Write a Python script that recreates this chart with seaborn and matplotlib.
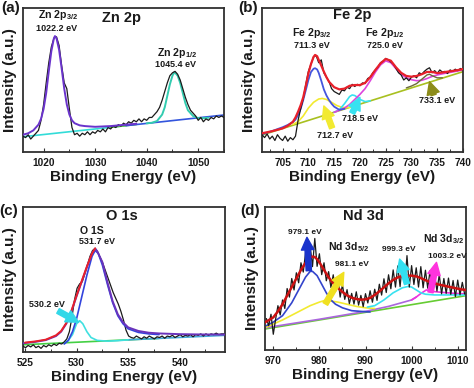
import numpy as np
import matplotlib
matplotlib.use("Agg")
import matplotlib.pyplot as plt
import seaborn as sns
from matplotlib.ticker import MultipleLocator

sns.set_theme(style="white")
plt.rcParams['font.family'] = ['Liberation Sans', 'DejaVu Sans']
plt.rcParams['font.weight'] = 'bold'
plt.rcParams['mathtext.fontset'] = 'custom'
plt.rcParams['mathtext.rm'] = 'Liberation Sans:bold'
plt.rcParams['mathtext.bf'] = 'Liberation Sans:bold'
plt.rcParams['mathtext.default'] = 'rm'

# ---------------- (a) Zn 2p ----------------
a_E0, a_dE = 1016.0, 0.5
a_data = [11, 10, 12, 9, 11, 13, 15, 22, 33, 48, 62, 73, 79, 80, 74, 60, 48, 44, 30, 17,
          12, 13, 11, 13, 12, 14, 12, 14, 13, 15, 14, 16, 14, 17, 16, 18, 17, 19, 18, 20,
          19, 21, 20, 22, 21, 23, 21, 23, 22, 24, 24, 26, 28, 31, 36, 42, 48, 53, 55, 56,
          54, 50, 44, 38, 33, 29, 27, 25, 22, 24, 21, 23, 22, 24, 23, 25, 24, 25, 24]
a_p32_E = [1016, 1017, 1018, 1019, 1019.5, 1020, 1020.5, 1021, 1021.5, 1022, 1022.2, 1022.5,
           1023, 1023.5, 1024, 1024.5, 1025, 1025.5, 1026, 1027, 1028, 1030, 1033, 1036, 1038]
a_p32_I = [12, 13, 15, 19, 23, 30, 41, 56, 70, 79, 80.5, 79,
           71, 58, 44, 33, 26, 22, 20, 18.5, 18, 17.5, 18, 19, 19.6]
a_p12_E = [1040, 1041, 1042, 1043, 1043.5, 1044, 1044.5, 1045, 1045.4, 1046, 1046.5, 1047,
           1047.5, 1048, 1049, 1050, 1051, 1052]
a_p12_I = [19.9, 20.3, 21.5, 26, 31, 39, 47, 53, 55.5, 53, 48, 41,
           34, 29, 25, 23.5, 23.5, 23.8]
a_base1_E, a_base1_I = [1016, 1036], [10.6, 18.3]
a_base2_E, a_base2_I = [1033, 1038], [17.2, 19.1]
a_base3_E, a_base3_I = [1036, 1055], [18.3, 25.7]

# ---------------- (b) Fe 2p ----------------
b_E0, b_dE = 701.0, 0.5
b_data = [12, 10, 12.5, 9, 11, 8, 12, 9.5, 8, 11, 7.5, 10, 8.5, 11, 22, 30, 37, 47, 56, 61,
          66, 67, 62, 64, 55, 52, 49, 44, 42, 41, 40, 43, 42.5, 45, 44, 47, 45.5, 47, 46, 48,
          47.5, 51, 52, 55, 57, 59, 62, 63, 65, 64, 62.5, 61, 58, 55, 53.5, 50, 51.5, 49.5, 52, 53,
          51.5, 55, 54, 56, 57.5, 58.5, 55, 56.5, 54.5, 57, 55.5, 56, 54.5, 57, 56, 57.5, 56.5, 58, 57]
b_env_E = [701, 703, 705, 706, 707, 707.5, 708, 708.5, 709, 709.5, 710, 710.5, 711, 711.3, 711.7,
           712, 712.5, 713, 713.5, 714, 715, 716, 717, 718, 719, 720, 721, 722, 723, 724, 725,
           726, 727, 728, 729, 730, 731, 732, 733, 734, 735, 736, 737, 738, 739, 740]
b_env_I = [13, 14.5, 16.4, 18.2, 21, 24, 28, 32.5, 38, 46, 54.6, 61, 66, 67.4, 66.5,
           64, 60, 55.8, 52, 48.8, 45, 43.5, 44, 46, 46.5, 46.5, 48, 51.9, 57, 61.6, 64.6,
           63.4, 58.8, 55, 52.8, 52.3, 52.8, 54, 55.6, 55.6, 54.8, 55.2, 55.8, 56.3, 56.9, 57.6]
b_base_E, b_base_I = [701, 740], [11.8, 55.8]
b_main_E = [701, 703, 705, 706, 707, 707.5, 708, 708.5, 709, 709.5, 710, 710.5, 711, 711.3,
            711.7, 712, 712.5, 713, 713.5, 714, 714.5, 715, 716, 717]
b_main_I = [12.3, 14.6, 17.2, 18.8, 20.8, 22.5, 25.7, 30, 36.1, 43, 50, 55.5, 57.8, 58.2,
            57.3, 55, 49.5, 43.5, 39.3, 36.1, 33.5, 31.5, 29.3, 30]
b_sat1_E = [707, 708, 709, 710, 711, 712, 712.7, 713.5, 714.5, 715.5, 716.5, 717.5, 718.5]
b_sat1_I = [19.2, 21, 25, 30.5, 34.5, 36.8, 37.2, 36.5, 34.5, 32.3, 31, 30.8, 31.5]
b_sat2_E = [715, 716, 717, 717.5, 718, 718.5, 719, 719.5, 720, 721, 722]
b_sat2_I = [27.6, 29.3, 33.5, 36, 38.5, 39.6, 39.2, 38, 36.5, 35, 35.5]
b_p12_E = [715, 716, 717, 718, 719, 720, 721, 722, 723, 724, 725, 726, 727, 728, 729, 730,
           731, 732, 733, 734, 735, 736, 737, 738, 739, 740]
b_p12_I = [27.6, 29, 30.5, 33, 36.5, 40, 44, 49.5, 55.5, 60.5, 63.3, 62, 57.8, 54, 51.5, 50.2,
           49.5, 49.8, 51, 52.5, 53.5, 54.3, 55, 55.6, 56.3, 57]
b_sat3_E = [729, 730, 731, 732, 733, 733.5, 734, 735, 736]
b_sat3_I = [44.5, 45.8, 47.5, 50.5, 53.5, 54, 53, 51.5, 51.5]

# ---------------- (c) O 1s ----------------
c_E0, c_dE = 524.8, 0.25
c_data = [4, 3, 4.5, 3.5, 5, 3, 4, 2.5, 4.5, 3.5, 5, 4, 5.5, 4.5, 6, 5.5, 7, 9, 14, 24,
          36, 44, 47, 48.5, 54, 60, 66, 70, 71.5, 69, 65, 61, 56, 51, 46, 41, 37, 33, 28, 22,
          15, 11, 10, 9.5, 11, 10, 9, 10.5, 9.5, 11, 10, 9, 10.5, 10, 11, 9.5, 11, 10.5, 11.5, 10,
          11, 12, 10.5, 11.5, 11, 12, 10.5, 12, 11.5, 12.5, 11, 12.5, 11.5, 12.5, 12, 13, 12, 12.5, 12.5]
c_red_E = [525, 526, 527, 528, 528.5, 529, 529.5, 530, 530.5, 531, 531.5, 531.8]
c_red_I = [6.5, 7.3, 8.5, 11.5, 14.5, 20, 28.5, 39, 49, 59, 68, 71.5]
c_env_E = [524.8, 525, 526, 527, 528, 528.5, 529, 529.5, 530, 530.5, 531, 531.5, 531.8, 532,
           532.5, 533, 533.5, 534, 534.5, 535, 536, 537, 538, 540, 542, 544.4]
c_env_I = [6, 6.2, 7, 8.2, 11, 14, 19.5, 28, 38.5, 48.5, 58.5, 68, 71.3, 69.5,
           62, 48, 35, 26, 20.5, 17, 14.5, 13.3, 12.8, 12.3, 12.1, 12]
c_main_E = [528.8, 529.2, 529.6, 530, 530.5, 531, 531.5, 531.8, 532.1, 532.5, 533, 533.5,
            534, 534.5, 535, 536, 537, 538]
c_main_I = [5.5, 8, 14, 23, 38, 53, 66, 70, 68, 60, 46.5, 34, 25, 19.5, 16, 13.5, 12.5, 12]
c_low_E = [528.8, 529.2, 529.6, 530, 530.3, 530.6, 531, 531.4, 532, 533, 534, 535]
c_low_I = [6.2, 8, 12, 19.5, 21.6, 19.5, 14, 10, 8, 7.5, 7.8, 8.4]
c_base1_E, c_base1_I = [524.8, 538], [5.0, 9.4]
c_base2_E, c_base2_I = [535, 544.4], [8.4, 11.5]

# ---------------- (d) Nd 3d ----------------
d_E0, d_dE = 968.5, 0.5
d_data = [22, 17, 25, 11, 21.5, 31, 24.5, 35, 29, 43, 37, 50, 42, 54, 47, 61, 54.5, 68, 57, 72.8,
          58.3, 78, 58.5, 67.3, 52.7, 61, 48.4, 54.8, 43.7, 52.6, 41, 50.4, 37, 45.6, 35.4, 42.2,
          32.4, 39.6, 32.1, 40.7, 31.4, 38.2, 30.3, 39.4, 32.9, 41.4, 33.4, 42.5, 34.7, 46, 38.4,
          49.8, 40.2, 52.6, 42.8, 56, 44, 58.8, 44.3, 60.7, 45.9, 66, 44, 59, 45.8, 57.5, 44, 58.3,
          43.5, 55.8, 43.2, 55.5, 41, 52.6, 41.2, 52.7, 39.3, 50, 39.6, 50.3, 38.9, 48.6, 37.3,
          48.9, 38.6, 47.3, 39.1]
d_env_E = [968.2, 970, 971, 972, 973, 974, 975, 976, 977, 977.5, 978, 978.5, 979, 979.5, 980,
           981, 982, 983, 984, 985, 986, 987, 988, 989, 990, 991, 992, 993, 994, 995, 996, 997,
           998, 999, 1000, 1001, 1002, 1003, 1004, 1005, 1006, 1007, 1008, 1009, 1010, 1011, 1011.8]
d_env_I = [19.3, 22.8, 27, 32, 38, 44, 50, 56, 61, 63, 64.8, 65.3, 65, 63.5, 61.3,
           56, 50.8, 46.6, 43.4, 40.6, 38.2, 36.6, 35.7, 35.2, 35.4, 36.4, 38.5, 41, 43.8, 46.6, 49, 50.8,
           51.7, 52, 52, 51.5, 50.3, 48.8, 47.5, 46.6, 45.7, 45, 44.3, 43.6, 42.9, 42.3, 42]
d_base_E, d_base_I = [968.2, 1011.8], [14.7, 38]
d_p1_E = [968.5, 970, 972, 974, 976, 977, 978, 978.5, 979.5, 980.5, 981.5, 982.5, 983.5,
          985, 987, 989, 991]
d_p1_I = [17, 19.5, 24, 33, 45, 51, 55, 55, 52, 46, 40, 35, 32, 29.5, 27.5, 27, 26.6]
d_p2_E = [968.5, 972, 975, 978, 980, 981, 982, 984, 986, 988, 990, 992]
d_p2_I = [16, 21, 26, 31, 33.5, 34.5, 34.5, 33.5, 32, 30.5, 29.5, 29]
d_p3_E = [990.4, 992, 994, 996, 998, 999.3, 1000, 1001, 1002, 1003, 1005, 1008, 1011.8]
d_p3_I = [30, 31, 35, 40, 43.5, 44.5, 44, 42, 40, 39, 38.5, 38.5, 38.5]
d_tail_E = [968.2, 980, 990, 995, 1000, 1001]
d_tail_I = [15.5, 21.5, 27, 30.5, 35, 37]
d_p4_E = [1000, 1001, 1002, 1003.2, 1004, 1005, 1007, 1009, 1011.8]
d_p4_I = [35, 37, 39.5, 42, 41.5, 40.8, 40.2, 39.7, 39.2]

# ---------------- layout ----------------
W, H = 474, 388
fig = plt.figure(figsize=(W / 100, H / 100), dpi=100)


def mkax(l, r, t, b):
    return fig.add_axes([l / W, 1 - b / H, (r - l) / W, (b - t) / H])


def line(ax, x, y, color, lw=1.0, z=2):
    sns.lineplot(x=np.asarray(x, float), y=np.asarray(y, float), ax=ax, color=color,
                 linewidth=lw, estimator=None, sort=False, legend=False, zorder=z)


def grid(e0, de, n):
    return e0 + de * np.arange(n)


def style(ax, xlim, major, minor):
    ax.set_xlim(*xlim)
    ax.set_ylim(0, 100)
    ax.set_yticks([])
    ax.xaxis.set_major_locator(MultipleLocator(major))
    ax.xaxis.set_minor_locator(MultipleLocator(minor))
    ax.tick_params(axis='x', which='major', direction='in', length=3, width=0.8,
                   bottom=True, pad=4.5, labelsize=7.3, labelcolor='#1a1a1a', color='#333333')
    ax.tick_params(axis='x', which='minor', direction='in', length=2, width=0.7,
                   bottom=True, color='#333333')
    for lab in ax.get_xticklabels():
        lab.set_fontweight('bold')
    for s in ax.spines.values():
        s.set_linewidth(1.3)
        s.set_color('#303030')
    ax.set_xlabel('Binding Energy (eV)', fontsize=11, fontweight='bold', labelpad=1.5,
                  color='#1a1a1a')
    ax.set_ylabel('Intensity (a.u.)', fontsize=11, fontweight='bold', color='#1a1a1a')
    ax.yaxis.set_label_coords(-0.03, 0.5)


def txt(ax, x, y, s, size, color='#1a1a1a'):
    ax.text(x, y, s, ha='center', va='center', fontsize=size, fontweight='bold',
            color=color, zorder=6)


def arrow(ax, tail, head, color):
    ax.annotate('', xy=head, xytext=tail,
                arrowprops=dict(arrowstyle='simple,head_length=0.9,head_width=0.9,tail_width=0.38',
                                color=color, shrinkA=0, shrinkB=0, mutation_scale=10),
                zorder=7)


# (a)
axa = mkax(23, 224, 8, 152)
line(axa, a_base1_E, a_base1_I, '#33dcd8', 1.2)
line(axa, a_base2_E, a_base2_I, '#66bb33', 1.2)
line(axa, a_base3_E, a_base3_I, '#3355dd', 1.2)
line(axa, a_p12_E, a_p12_I, '#33ccb0', 1.4)
line(axa, grid(a_E0, a_dE, len(a_data)), a_data, '#1a1a1a', 0.9, 3)
line(axa, a_p32_E, a_p32_I, '#6a33cc', 1.4, 4)
style(axa, (1016, 1055), 10, 5)
txt(axa, 1035.2, 93, 'Zn 2p', 10.5)
txt(axa, 1022.8, 95, 'Zn 2p$_{3/2}$', 7.6)
txt(axa, 1022.6, 86, '1022.2 eV', 6.5)
txt(axa, 1045.9, 68.8, 'Zn 2p$_{1/2}$', 7.6)
txt(axa, 1045.5, 61, '1045.4 eV', 6.5)

# (b)
axb = mkax(262, 463, 8, 152)
line(axb, b_base_E, b_base_I, '#a8c020', 1.2)
line(axb, b_sat1_E, b_sat1_I, '#f2ea30', 1.2)
line(axb, b_sat2_E, b_sat2_I, '#38e2f0', 1.2)
line(axb, b_p12_E, b_p12_I, '#dd44dd', 1.2)
line(axb, b_sat3_E, b_sat3_I, '#6b6b38', 1.0)
line(axb, b_main_E, b_main_I, '#4455dd', 1.3)
line(axb, grid(b_E0, b_dE, len(b_data)), b_data, '#1a1a1a', 0.9, 3)
line(axb, b_env_E, b_env_I, '#e8202a', 1.6, 4)
style(axb, (701, 740), 5, 2.5)
txt(axb, 718.5, 95, 'Fe 2p', 10.5)
txt(axb, 710.7, 82.6, 'Fe 2p$_{3/2}$', 7.6)
txt(axb, 710.7, 74.3, '711.3 eV', 6.5)
txt(axb, 724.9, 82.6, 'Fe 2p$_{1/2}$', 7.6)
txt(axb, 724.9, 74.3, '725.0 eV', 6.5)
txt(axb, 715.2, 11.8, '712.7 eV', 6.5)
txt(axb, 720.0, 23.6, '718.5 eV', 6.5)
txt(axb, 735.0, 36.0, '733.1 eV', 6.5)
arrow(axb, (714.6, 16.7), (713.0, 32), '#f2ea30')
arrow(axb, (718.5, 27), (720.0, 38), '#38e2f0')
arrow(axb, (734.3, 39.6), (733.5, 48.8), '#8c8c1a')

# (c)
axc = mkax(23, 225, 207, 352)
line(axc, c_base1_E, c_base1_I, '#44d044', 1.2)
line(axc, c_base2_E, c_base2_I, '#44a8d8', 1.2)
line(axc, c_low_E, c_low_I, '#40e0e0', 1.2)
line(axc, grid(c_E0, c_dE, len(c_data)), c_data, '#1a1a1a', 0.9, 3)
line(axc, c_main_E, c_main_I, '#3344dd', 1.2, 4)
line(axc, c_env_E, c_env_I, '#6a33bb', 1.4, 4)
line(axc, c_red_E, c_red_I, '#e8202a', 1.4, 5)
style(axc, (524.8, 544.4), 5, 2.5)
txt(axc, 534.4, 93.8, 'O 1s', 10.5)
txt(axc, 531.5, 83.4, 'O 1S', 7.6)
txt(axc, 532.0, 75.9, '531.7 eV', 6.5)
txt(axc, 527.1, 33.0, '530.2 eV', 6.5)
arrow(axc, (528.2, 28.3), (530.2, 20.5), '#33d8e8')

# (d)
axd = mkax(265, 466, 207, 350)
line(axd, d_base_E, d_base_I, '#66cc33', 1.2)
line(axd, d_tail_E, d_tail_I, '#aa66dd', 1.2)
line(axd, d_p4_E, d_p4_I, '#ee33dd', 1.2)
line(axd, d_p2_E, d_p2_I, '#f2ea30', 1.2)
line(axd, d_p3_E, d_p3_I, '#38e2f0', 1.2)
line(axd, d_p1_E, d_p1_I, '#3344cc', 1.2)
line(axd, grid(d_E0, d_dE, len(d_data)), d_data, '#1a1a1a', 0.9, 3)
line(axd, d_env_E, d_env_I, '#cc1111', 1.8, 4)
style(axd, (968.2, 1011.8), 10, 5)
txt(axd, 989.6, 93.9, 'Nd 3d', 10.5)
txt(axd, 976.9, 82.3, '979.1 eV', 6.0)
txt(axd, 986.4, 71.8, 'Nd 3d$_{5/2}$', 7.6)
txt(axd, 987.1, 60.1, '981.1 eV', 6.0)
txt(axd, 997.2, 70.6, '999.3 eV', 6.0)
txt(axd, 1007.0, 77.6, 'Nd 3d$_{3/2}$', 7.6)
txt(axd, 1007.7, 65.5, '1003.2 eV', 6.0)
arrow(axd, (977.7, 55.5), (977.3, 78.8), '#1a33cc')
arrow(axd, (981.3, 32.2), (985.3, 54.3), '#f0e020')
arrow(axd, (999.0, 46.2), (997.4, 63.6), '#33e0f0')
arrow(axd, (1004.1, 40.3), (1005.4, 61.3), '#ff33dd')

# panel letters
for s, x, y in [('(a)', 11, 8), ('(b)', 248, 8), ('(c)', 9, 211), ('(d)', 250, 211)]:
    fig.text(x / W, 1 - y / H, s, ha='center', va='center', fontsize=11,
             fontweight='bold', color='#1a1a1a')

fig.savefig('out.png', dpi=100)
